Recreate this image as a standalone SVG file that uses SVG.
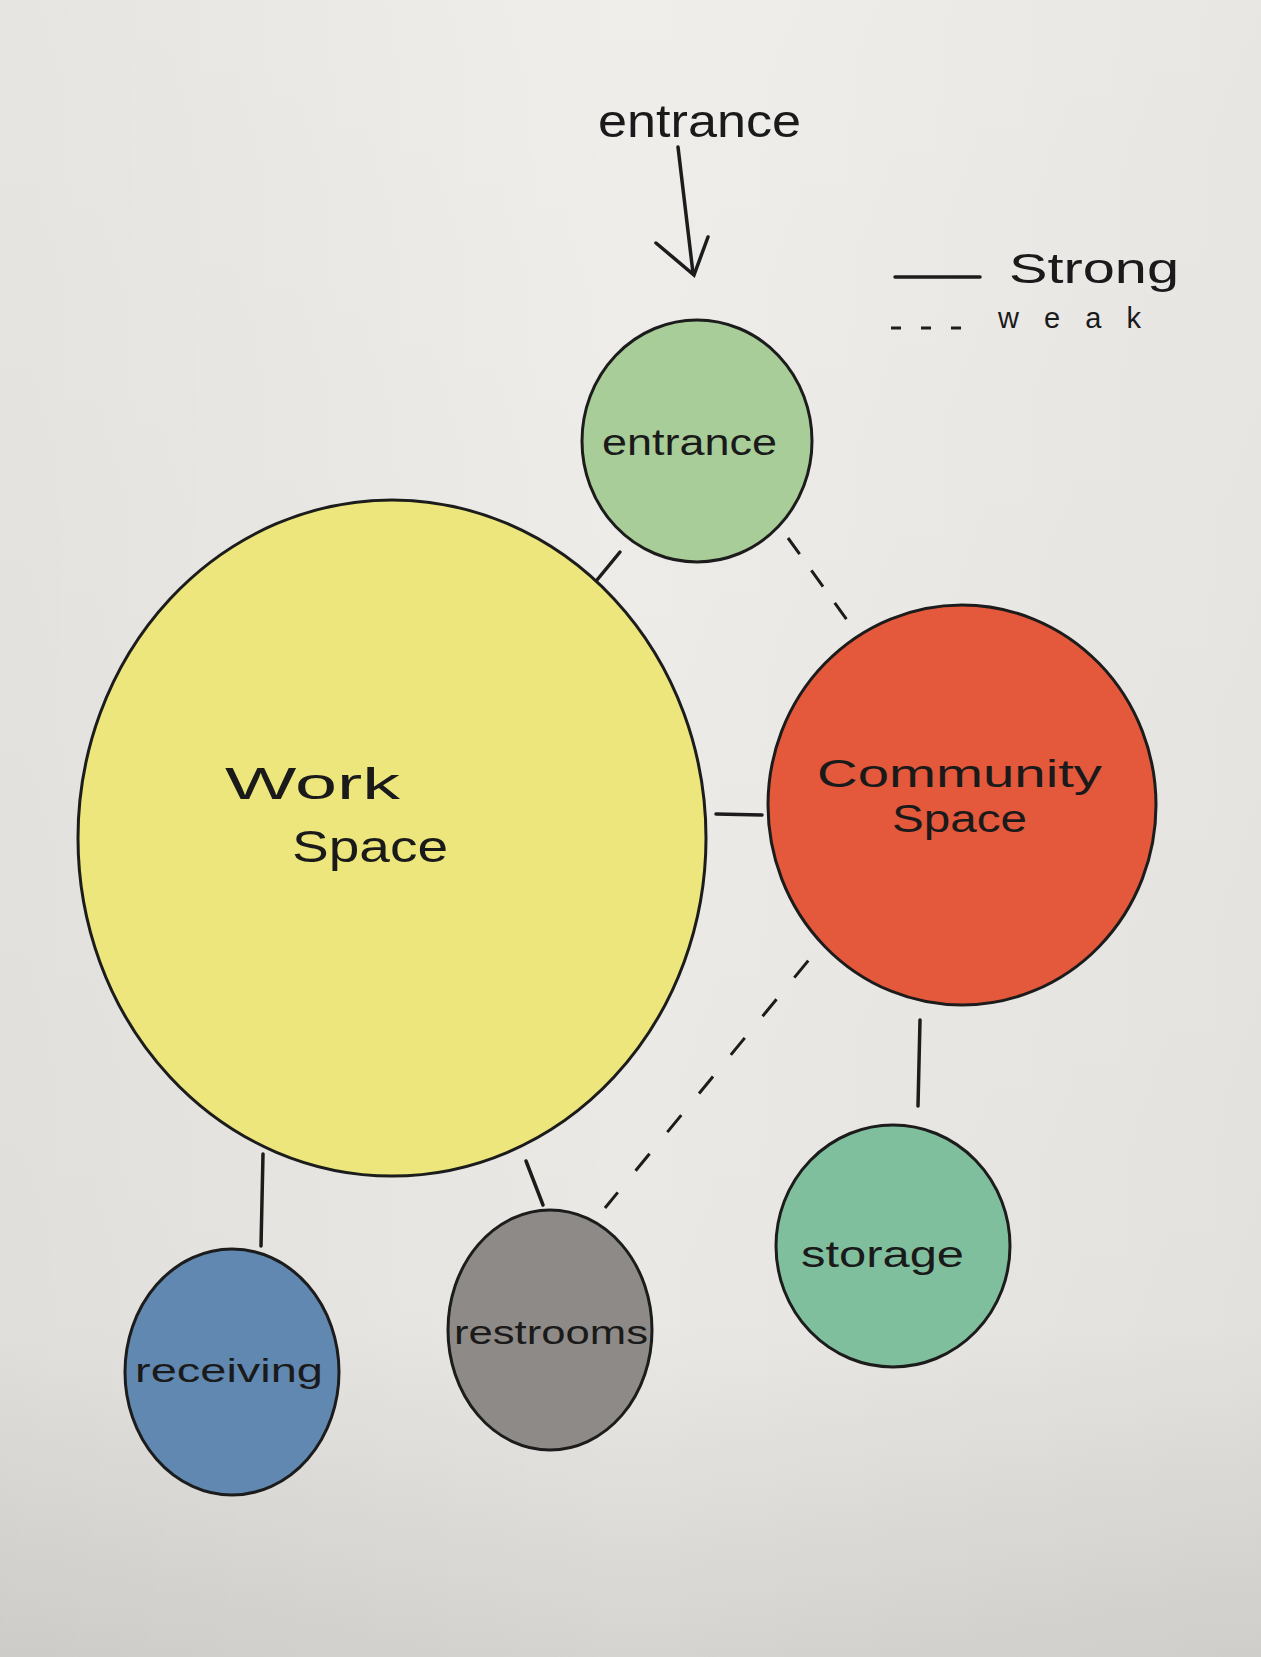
<svg xmlns="http://www.w3.org/2000/svg" width="1261" height="1657" viewBox="0 0 1261 1657">
<defs>
<linearGradient id="paper" x1="0" y1="0" x2="0" y2="1">
<stop offset="0" stop-color="#efeeeb"/>
<stop offset="0.8" stop-color="#e9e8e5"/>
<stop offset="1" stop-color="#d6d4d1"/>
</linearGradient>
<linearGradient id="paperx" x1="0" y1="0" x2="1" y2="0">
<stop offset="0" stop-color="#000" stop-opacity="0.04"/>
<stop offset="0.5" stop-color="#000" stop-opacity="0"/>
<stop offset="1" stop-color="#000" stop-opacity="0.03"/>
</linearGradient>
</defs>
<style>
.node{stroke:#1c1c1c;stroke-width:3}
.lbl{font-family:"Liberation Sans",Arial,sans-serif;fill:#1a1a1a}
.strong{stroke:#1c1c1c;stroke-width:3.5;fill:none;stroke-linecap:round}
.weak{stroke:#1c1c1c;stroke-width:3;fill:none}
</style>
<rect x="0" y="0" width="1261" height="1657" fill="url(#paper)"/>
<rect x="0" y="0" width="1261" height="1657" fill="url(#paperx)"/>

<g id="connectors">
<line class="strong" x1="678" y1="147" x2="693" y2="273"/>
<polyline class="strong" points="656,243 694,275 708,237"/>
<line class="strong" x1="620" y1="552" x2="597" y2="580"/>
<line class="weak" stroke-dasharray="20 20" x1="788" y1="538" x2="847" y2="620"/>
<line class="strong" x1="716" y1="814" x2="762" y2="815"/>
<line class="strong" x1="920" y1="1020" x2="918" y2="1106"/>
<line class="weak" stroke-dasharray="22 28" x1="840" y1="922" x2="605" y2="1208"/>
<line class="strong" x1="526" y1="1161" x2="543" y2="1205"/>
<line class="strong" x1="263" y1="1154" x2="261" y2="1246"/>
</g>

<g id="legend">
<line class="strong" x1="895" y1="277" x2="980" y2="277"/>
<text class="lbl" x="1009" y="283" font-size="42" textLength="170" lengthAdjust="spacingAndGlyphs">Strong</text>
<line stroke="#1c1c1c" stroke-width="3" stroke-dasharray="10 20" x1="891" y1="328" x2="965" y2="328"/>
<text class="lbl" x="998" y="328" font-size="29" textLength="143" lengthAdjust="spacing">weak</text>
</g>

<g id="entrance-label">
<text class="lbl" x="598" y="137" font-size="46" textLength="203" lengthAdjust="spacingAndGlyphs">entrance</text>
</g>

<g id="work-space">
<ellipse class="node" cx="392" cy="838" rx="314" ry="338" fill="#ece67c"/>
<text class="lbl" x="225" y="799" font-size="44" textLength="175" lengthAdjust="spacingAndGlyphs">Work</text>
<text class="lbl" x="292" y="862" font-size="44" textLength="156" lengthAdjust="spacingAndGlyphs">Space</text>
</g>

<g id="entrance">
<ellipse class="node" cx="697" cy="441" rx="115" ry="121" fill="#a8cd98"/>
<text class="lbl" x="602" y="455" font-size="36" textLength="175" lengthAdjust="spacingAndGlyphs">entrance</text>
</g>

<g id="community-space">
<ellipse class="node" cx="962" cy="805" rx="194" ry="200" fill="#e4583b"/>
<text class="lbl" x="817" y="787" font-size="38" textLength="285" lengthAdjust="spacingAndGlyphs">Community</text>
<text class="lbl" x="892" y="832" font-size="38" textLength="135" lengthAdjust="spacingAndGlyphs">Space</text>
</g>

<g id="storage">
<ellipse class="node" cx="893" cy="1246" rx="117" ry="121" fill="#80bf9e"/>
<text class="lbl" x="801" y="1267" font-size="36" textLength="163" lengthAdjust="spacingAndGlyphs">storage</text>
</g>

<g id="restrooms">
<ellipse class="node" cx="550" cy="1330" rx="102" ry="120" fill="#8e8a87"/>
<text class="lbl" x="454" y="1344" font-size="33" textLength="194" lengthAdjust="spacingAndGlyphs">restrooms</text>
</g>

<g id="receiving">
<ellipse class="node" cx="232" cy="1372" rx="107" ry="123" fill="#6188b0"/>
<text class="lbl" x="135" y="1382" font-size="33" textLength="188" lengthAdjust="spacingAndGlyphs">receiving</text>
</g>
</svg>
